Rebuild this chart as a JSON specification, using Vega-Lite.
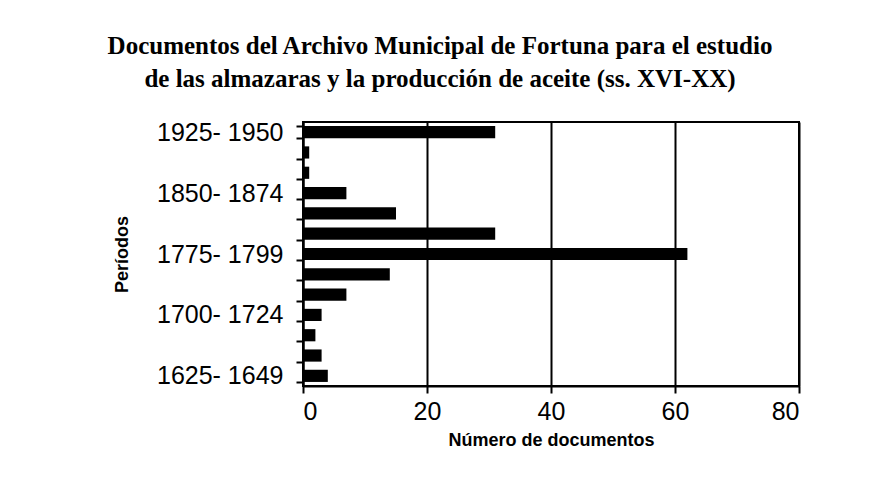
{
  "$schema": "https://vega.github.io/schema/vega-lite/v6.json",
  "width": 496,
  "height": 264,
  "padding": {"left": 106, "top": 34, "right": 10, "bottom": 10},
  "background": "white",
  "title": {
    "text": ["Documentos del Archivo Municipal de Fortuna para el estudio", "de las almazaras y la producción de aceite (ss. XVI-XX)"],
    "font": "Liberation Serif",
    "fontSize": 25,
    "fontWeight": "bold",
    "color": "black",
    "anchor": "middle",
    "frame": "group",
    "dx": -111,
    "lineHeight": 33,
    "offset": 18
  },
  "data": {
    "values": [
      {"periodo": "1625- 1649", "documentos": 4},
      {"periodo": "1650- 1674", "documentos": 3},
      {"periodo": "1675- 1699", "documentos": 2},
      {"periodo": "1700- 1724", "documentos": 3},
      {"periodo": "1725- 1749", "documentos": 7},
      {"periodo": "1750- 1774", "documentos": 14},
      {"periodo": "1775- 1799", "documentos": 62},
      {"periodo": "1800- 1824", "documentos": 31},
      {"periodo": "1825- 1849", "documentos": 15},
      {"periodo": "1850- 1874", "documentos": 7},
      {"periodo": "1875- 1899", "documentos": 1},
      {"periodo": "1900- 1924", "documentos": 1},
      {"periodo": "1925- 1950", "documentos": 31}
    ]
  },
  "mark": {"type": "bar", "color": "black"},
  "encoding": {
    "y": {
      "field": "periodo",
      "type": "nominal",
      "sort": "descending",
      "scale": {"paddingInner": 0.4, "paddingOuter": 0.2},
      "axis": {
        "title": "Períodos",
        "titleFont": "Liberation Sans",
        "titleFontSize": 18,
        "titleFontWeight": "bold",
        "titleColor": "black",
        "titlePadding": 25,
        "labelFont": "Liberation Sans",
        "labelFontSize": 25,
        "labelColor": "black",
        "labelPadding": 13,
        "labelExpr": "indexof(['1625- 1649','1700- 1724','1775- 1799','1850- 1874','1925- 1950'], datum.value) >= 0 ? datum.value : ''",
        "tickBand": "extent",
        "tickSize": 7,
        "tickWidth": 2,
        "tickColor": "black",
        "domainColor": "black",
        "domainWidth": 2,
        "grid": false
      }
    },
    "x": {
      "field": "documentos",
      "type": "quantitative",
      "scale": {"domain": [0, 80]},
      "axis": {
        "title": "Número de documentos",
        "titleFont": "Liberation Sans",
        "titleFontSize": 18,
        "titleFontWeight": "bold",
        "titleColor": "black",
        "titlePadding": 7,
        "values": [0, 20, 40, 60, 80],
        "labelFont": "Liberation Sans",
        "labelFontSize": 25,
        "labelColor": "black",
        "labelPadding": 6,
        "tickSize": 7,
        "tickWidth": 2,
        "tickColor": "black",
        "domainColor": "black",
        "domainWidth": 2,
        "grid": true,
        "gridColor": "black",
        "gridWidth": 2,
        "gridOpacity": 1
      }
    }
  },
  "config": {
    "view": {"stroke": "black", "strokeWidth": 2}
  }
}
